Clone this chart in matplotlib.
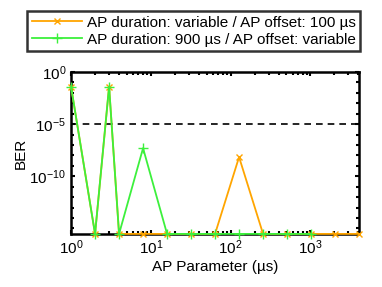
import matplotlib
matplotlib.use('Agg')
import matplotlib.pyplot as plt
from matplotlib.ticker import LogLocator, NullFormatter

plt.rcParams.update({
    'font.family': ['Liberation Sans', 'DejaVu Sans'],
    'font.size': 11,
    'mathtext.fontset': 'custom',
    'mathtext.rm': 'Liberation Sans',
})

FLOOR = 3e-16

# AP duration variable / offset 100 us
x_orange = [1, 2, 3, 4, 8, 16, 32, 64, 128, 256, 512, 1024, 2048, 4096]
ber_orange = [0.04, FLOOR, 0.04, FLOOR, FLOOR, FLOOR, FLOOR, FLOOR, 7e-9,
              FLOOR, FLOOR, FLOOR, FLOOR, FLOOR]

# AP duration 900 us / offset variable
x_green = [1, 2, 3, 4, 8, 16, 32, 64, 128, 256, 512, 1024]
ber_green = [0.04, FLOOR, 0.04, FLOOR, 5e-8, FLOOR, FLOOR, FLOOR, FLOOR,
             FLOOR, FLOOR, FLOOR]

ber_limit = 1e-5

fig = plt.figure(figsize=(3.82, 2.87), dpi=100)
ax = fig.add_axes([0.186, 0.185, 0.754, 0.564])

ax.plot(x_orange, ber_orange, color='#FFA500', marker='x', markersize=5,
        linewidth=1.3, clip_on=False, zorder=3,
        label='AP duration: variable / AP offset: 100 µs')
ax.plot(x_green, ber_green, color='#3CF03C', marker='+', markersize=7,
        linewidth=1.3, clip_on=False, zorder=4,
        label='AP duration: 900 µs / AP offset: variable')
ax.axhline(ber_limit, color='black', linestyle=(0, (4, 3)), linewidth=1.2)

ax.set_xscale('log')
ax.set_yscale('log')
ax.set_xlim(1, 4096)
ax.set_ylim(FLOOR, 1)

ax.set_yticks([1e-10, 1e-5, 1])
ax.yaxis.set_minor_locator(LogLocator(base=10, subs=[1.0], numticks=40))
ax.yaxis.set_minor_formatter(NullFormatter())
ax.xaxis.set_minor_locator(LogLocator(base=10, subs=range(2, 10), numticks=20))
ax.xaxis.set_minor_formatter(NullFormatter())

ax.tick_params(which='both', direction='in', top=True, right=True, width=1.5)
ax.tick_params(which='major', length=3)
ax.tick_params(which='minor', length=2)
for s in ax.spines.values():
    s.set_linewidth(1.8)

ax.set_xlabel('AP Parameter (µs)', labelpad=2)
ax.set_ylabel('BER', labelpad=1)

leg = fig.legend(loc='upper left', bbox_to_anchor=(27 / 382, 1 - 11 / 287),
                 ncol=1, frameon=True, fancybox=False, handlelength=3.3,
                 borderpad=0.3, labelspacing=0.2, handletextpad=0.3,
                 borderaxespad=0)
leg.get_frame().set_edgecolor('black')
leg.get_frame().set_linewidth(1.8)

fig.savefig('out.png', dpi=100)
